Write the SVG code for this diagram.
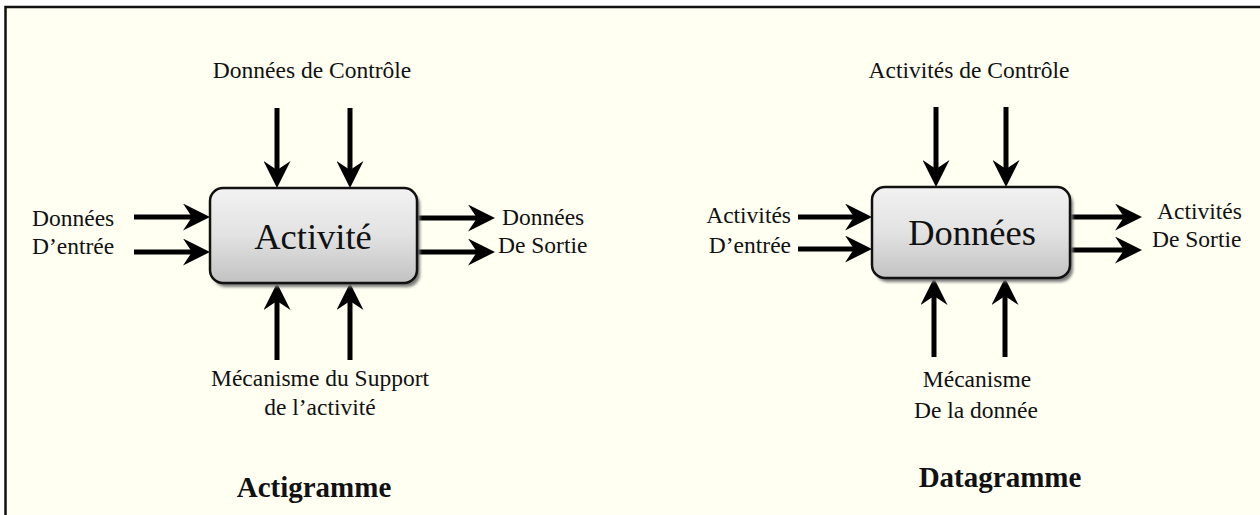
<svg xmlns="http://www.w3.org/2000/svg" width="1260" height="515" viewBox="0 0 1260 515">
<style>
  .t { font-family: "Liberation Serif", "Times New Roman", serif; font-size: 23.5px; fill: #111; }
  .box-text { font-family: "Liberation Serif", "Times New Roman", serif; font-size: 36.5px; fill: #111; text-anchor: middle; }
  .title { font-family: "Liberation Serif", "Times New Roman", serif; font-size: 29px; font-weight: bold; fill: #111; text-anchor: middle; }
  .mid { text-anchor: middle; }
  .end { text-anchor: end; }
  .box { fill: url(#boxgrad); stroke: #111; stroke-width: 2.5; }
  .shadow { fill: #7a7a7a; filter: url(#blur); }
  .arrow { stroke: #000; stroke-width: 5; fill: none; marker-end: url(#head); }
</style>
<defs>
  <linearGradient id="boxgrad" x1="0" y1="0" x2="0" y2="1">
    <stop offset="0" stop-color="#f2f2f2"/>
    <stop offset="0.5" stop-color="#e2e2e2"/>
    <stop offset="1" stop-color="#c2c2c2"/>
  </linearGradient>
  <filter id="blur" x="-10%" y="-10%" width="120%" height="130%">
    <feGaussianBlur stdDeviation="1.8"/>
  </filter>
  <marker id="head" markerUnits="userSpaceOnUse" viewBox="0 0 27 27" markerWidth="27" markerHeight="27" refX="15" refY="13.5" orient="auto">
    <path d="M27,13.5 L0,0 L9,13.5 L0,27 Z" fill="#000"/>
  </marker>
</defs>
<rect x="0" y="0" width="1260" height="515" fill="#ffffff"/>
<rect id="frame" x="5.5" y="7" width="1270" height="530" fill="#fffff2" stroke="#111" stroke-width="2.5"/>

<g id="connectors">
  <!-- Actigramme -->
  <line class="arrow" x1="277" y1="108" x2="277" y2="176"/>
  <line class="arrow" x1="350" y1="108" x2="350" y2="176"/>
  <line class="arrow" x1="134" y1="217" x2="198" y2="217"/>
  <line class="arrow" x1="134" y1="252" x2="198" y2="252"/>
  <line class="arrow" x1="417" y1="218" x2="483" y2="218"/>
  <line class="arrow" x1="417" y1="252" x2="483" y2="252"/>
  <line class="arrow" x1="277" y1="360" x2="277" y2="295"/>
  <line class="arrow" x1="350" y1="360" x2="350" y2="295"/>
  <!-- Datagramme -->
  <line class="arrow" x1="936" y1="107" x2="936" y2="175"/>
  <line class="arrow" x1="1006" y1="107" x2="1006" y2="175"/>
  <line class="arrow" x1="798" y1="217" x2="860" y2="217"/>
  <line class="arrow" x1="798" y1="249" x2="860" y2="249"/>
  <line class="arrow" x1="1070" y1="217" x2="1130" y2="217"/>
  <line class="arrow" x1="1070" y1="250" x2="1130" y2="250"/>
  <line class="arrow" x1="934" y1="357" x2="934" y2="290"/>
  <line class="arrow" x1="1005" y1="357" x2="1005" y2="290"/>
</g>

<g id="activite">
  <rect class="shadow" x="213" y="192" width="207" height="95" rx="13"/>
  <rect class="box" x="210" y="188" width="207" height="95" rx="13"/>
  <text class="box-text" x="313" y="249">Activité</text>
</g>

<g id="donnees">
  <rect class="shadow" x="875" y="191" width="198" height="91" rx="13"/>
  <rect class="box" x="872" y="187" width="198" height="91" rx="13"/>
  <text class="box-text" x="972" y="245">Données</text>
</g>

<g id="actigramme-labels">
  <text class="t mid" x="312" y="78">Données de Contrôle</text>
  <text class="t" x="32" y="226">Données</text>
  <text class="t" x="32" y="254">D’entrée</text>
  <text class="t" x="502" y="225">Données</text>
  <text class="t" x="498" y="253">De Sortie</text>
  <text class="t mid" x="320" y="386">Mécanisme du Support</text>
  <text class="t mid" x="320" y="415">de l’activité</text>
  <text class="title" x="314" y="497">Actigramme</text>
</g>

<g id="datagramme-labels">
  <text class="t mid" x="969" y="78">Activités de Contrôle</text>
  <text class="t end" x="791" y="223">Activités</text>
  <text class="t end" x="791" y="253">D’entrée</text>
  <text class="t" x="1157" y="219">Activités</text>
  <text class="t" x="1152" y="247">De Sortie</text>
  <text class="t mid" x="977" y="387">Mécanisme</text>
  <text class="t mid" x="976" y="418">De la donnée</text>
  <text class="title" x="1000" y="487">Datagramme</text>
</g>
</svg>
